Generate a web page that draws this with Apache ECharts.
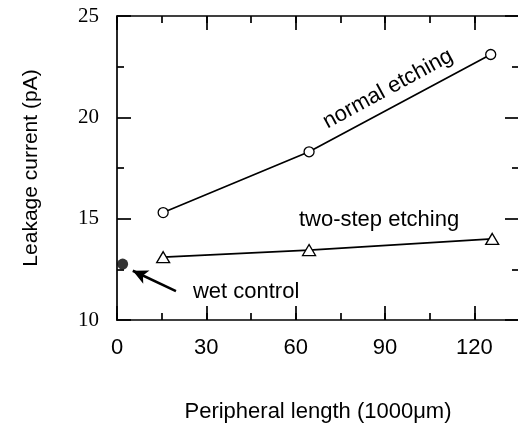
<!DOCTYPE html>
<html>
<head>
<meta charset="utf-8">
<script src="https://cdn.jsdelivr.net/npm/echarts@6/dist/echarts.min.js"></script>
<style>
html,body{margin:0;padding:0;background:#fff}
#chart{width:518px;height:428px}
</style>
</head>
<body>
<div id="chart"></div>
<script>
// values
var normalX = [15.5, 64.5, 125.5];
var normalY = [15.3, 18.3, 23.1];
var twoStepX = [15.5, 64.5, 126];
var twoStepY = [13.1, 13.45, 14.0];
var wetX = [1.9];
var wetY = [12.76];
var arrowFrom = [19.8, 11.43];
var arrowTo = [5.3, 12.43];

var SANS = '"Liberation Sans", Arial, sans-serif';
var SERIF = '"Liberation Serif", "Times New Roman", serif';

function pairs(xs, ys){
	var out = [];
	for (var i = 0; i < xs.length; i++) out.push([xs[i], ys[i]]);
	return out;
}

var chart = echarts.init(document.getElementById('chart'), null, {renderer:'canvas'});

var blackLine = {color:'#000', width:1.7};

// one axis builder, used for major and minor tick rows
function xAx(pos, interval, tickLen, showLabel, showLine){
	return {
		type:'value', position:pos, min:0, max:135, interval:interval,
		axisLine:{show:showLine, onZero:false, lineStyle:blackLine},
		axisTick:{show:true, inside:true, length:tickLen, lineStyle:blackLine},
		axisLabel:{show:showLabel, showMaxLabel:false, margin:17, color:'#000',
			fontSize:22, fontFamily:SANS},
		splitLine:{show:false}
	};
}
function yAx(pos, showLabel){
	return {
		type:'value', position:pos, min:10, max:25, interval:5,
		axisLine:{show:true, onZero:false, lineStyle:blackLine},
		axisTick:{show:true, inside:true, length:14, lineStyle:blackLine},
		minorTick:{show:true, splitNumber:2, length:7, lineStyle:blackLine},
		axisLabel:{show:showLabel, margin:18, color:'#000', fontSize:21, fontFamily:SERIF},
		splitLine:{show:false}
	};
}

var xMain = xAx('bottom', 30, 14, true, true);
xMain.name = 'Peripheral length (1000\u03bcm)';
xMain.nameLocation = 'middle';
xMain.nameGap = 81;
xMain.nameTextStyle = {color:'#000', fontSize:22, fontFamily:SANS};

var yMain = yAx('left', true);
yMain.name = 'Leakage current (pA)';
yMain.nameLocation = 'middle';
yMain.nameGap = 75;
yMain.nameTextStyle = {color:'#000', fontSize:21, fontFamily:SANS};

chart.setOption({
	backgroundColor:'#fff',
	animation:false,
	grid:{left:117, top:16, right:-1, bottom:108, containLabel:false, outerBoundsMode:'none'},
	xAxis:[
		xMain,
		xAx('bottom', 15, 7, false, false),
		xAx('top', 30, 14, false, true),
		xAx('top', 15, 7, false, false)
	],
	yAxis:[yMain, yAx('right', false)],
	series:[
		{
			name:'normal etching', type:'line', xAxisIndex:0, yAxisIndex:0,
			data:pairs(normalX, normalY),
			symbol:'circle', symbolSize:10,
			lineStyle:{color:'#000', width:1.7},
			itemStyle:{color:'#fff', borderColor:'#000', borderWidth:1.3}
		},
		{
			name:'two-step etching', type:'line', xAxisIndex:0, yAxisIndex:0,
			data:pairs(twoStepX, twoStepY),
			symbol:'triangle', symbolSize:[13,11],
			lineStyle:{color:'#000', width:1.7},
			itemStyle:{color:'#fff', borderColor:'#000', borderWidth:1.3}
		},
		{
			name:'wet control', type:'scatter', xAxisIndex:0, yAxisIndex:0,
			data:pairs(wetX, wetY),
			symbol:'circle', symbolSize:11,
			itemStyle:{color:'#000'},
			markLine:{
				silent:true, animation:false,
				label:{show:false},
				lineStyle:{color:'#000', width:2.5, type:'solid'},
				data:[[
					{coord:arrowFrom, symbol:'none'},
					{coord:arrowTo, symbol:'arrow', symbolSize:[11,15]}
				]]
			}
		}
	]
});

function placeText(){
	var a = chart.convertToPixel({seriesIndex:0}, [91, 21.4]);
	var b = chart.convertToPixel({seriesIndex:0}, [88, 14.93]);
	var c = chart.convertToPixel({seriesIndex:0}, [25.5, 11.38]);
	var font = '22px ' + SANS;
	chart.setOption({
		graphic:[
			{type:'text', x:a[0], y:a[1], rotation:28.5*Math.PI/180,
				style:{text:'normal etching', font:font, fill:'#000', align:'center', verticalAlign:'middle'}},
			{type:'text', x:b[0], y:b[1],
				style:{text:'two-step etching', font:font, fill:'#000', align:'center', verticalAlign:'middle'}},
			{type:'text', x:c[0], y:c[1],
				style:{text:'wet control', font:font, fill:'#000', align:'left', verticalAlign:'middle'}}
		]
	});
}
placeText();
</script>
</body>
</html>
